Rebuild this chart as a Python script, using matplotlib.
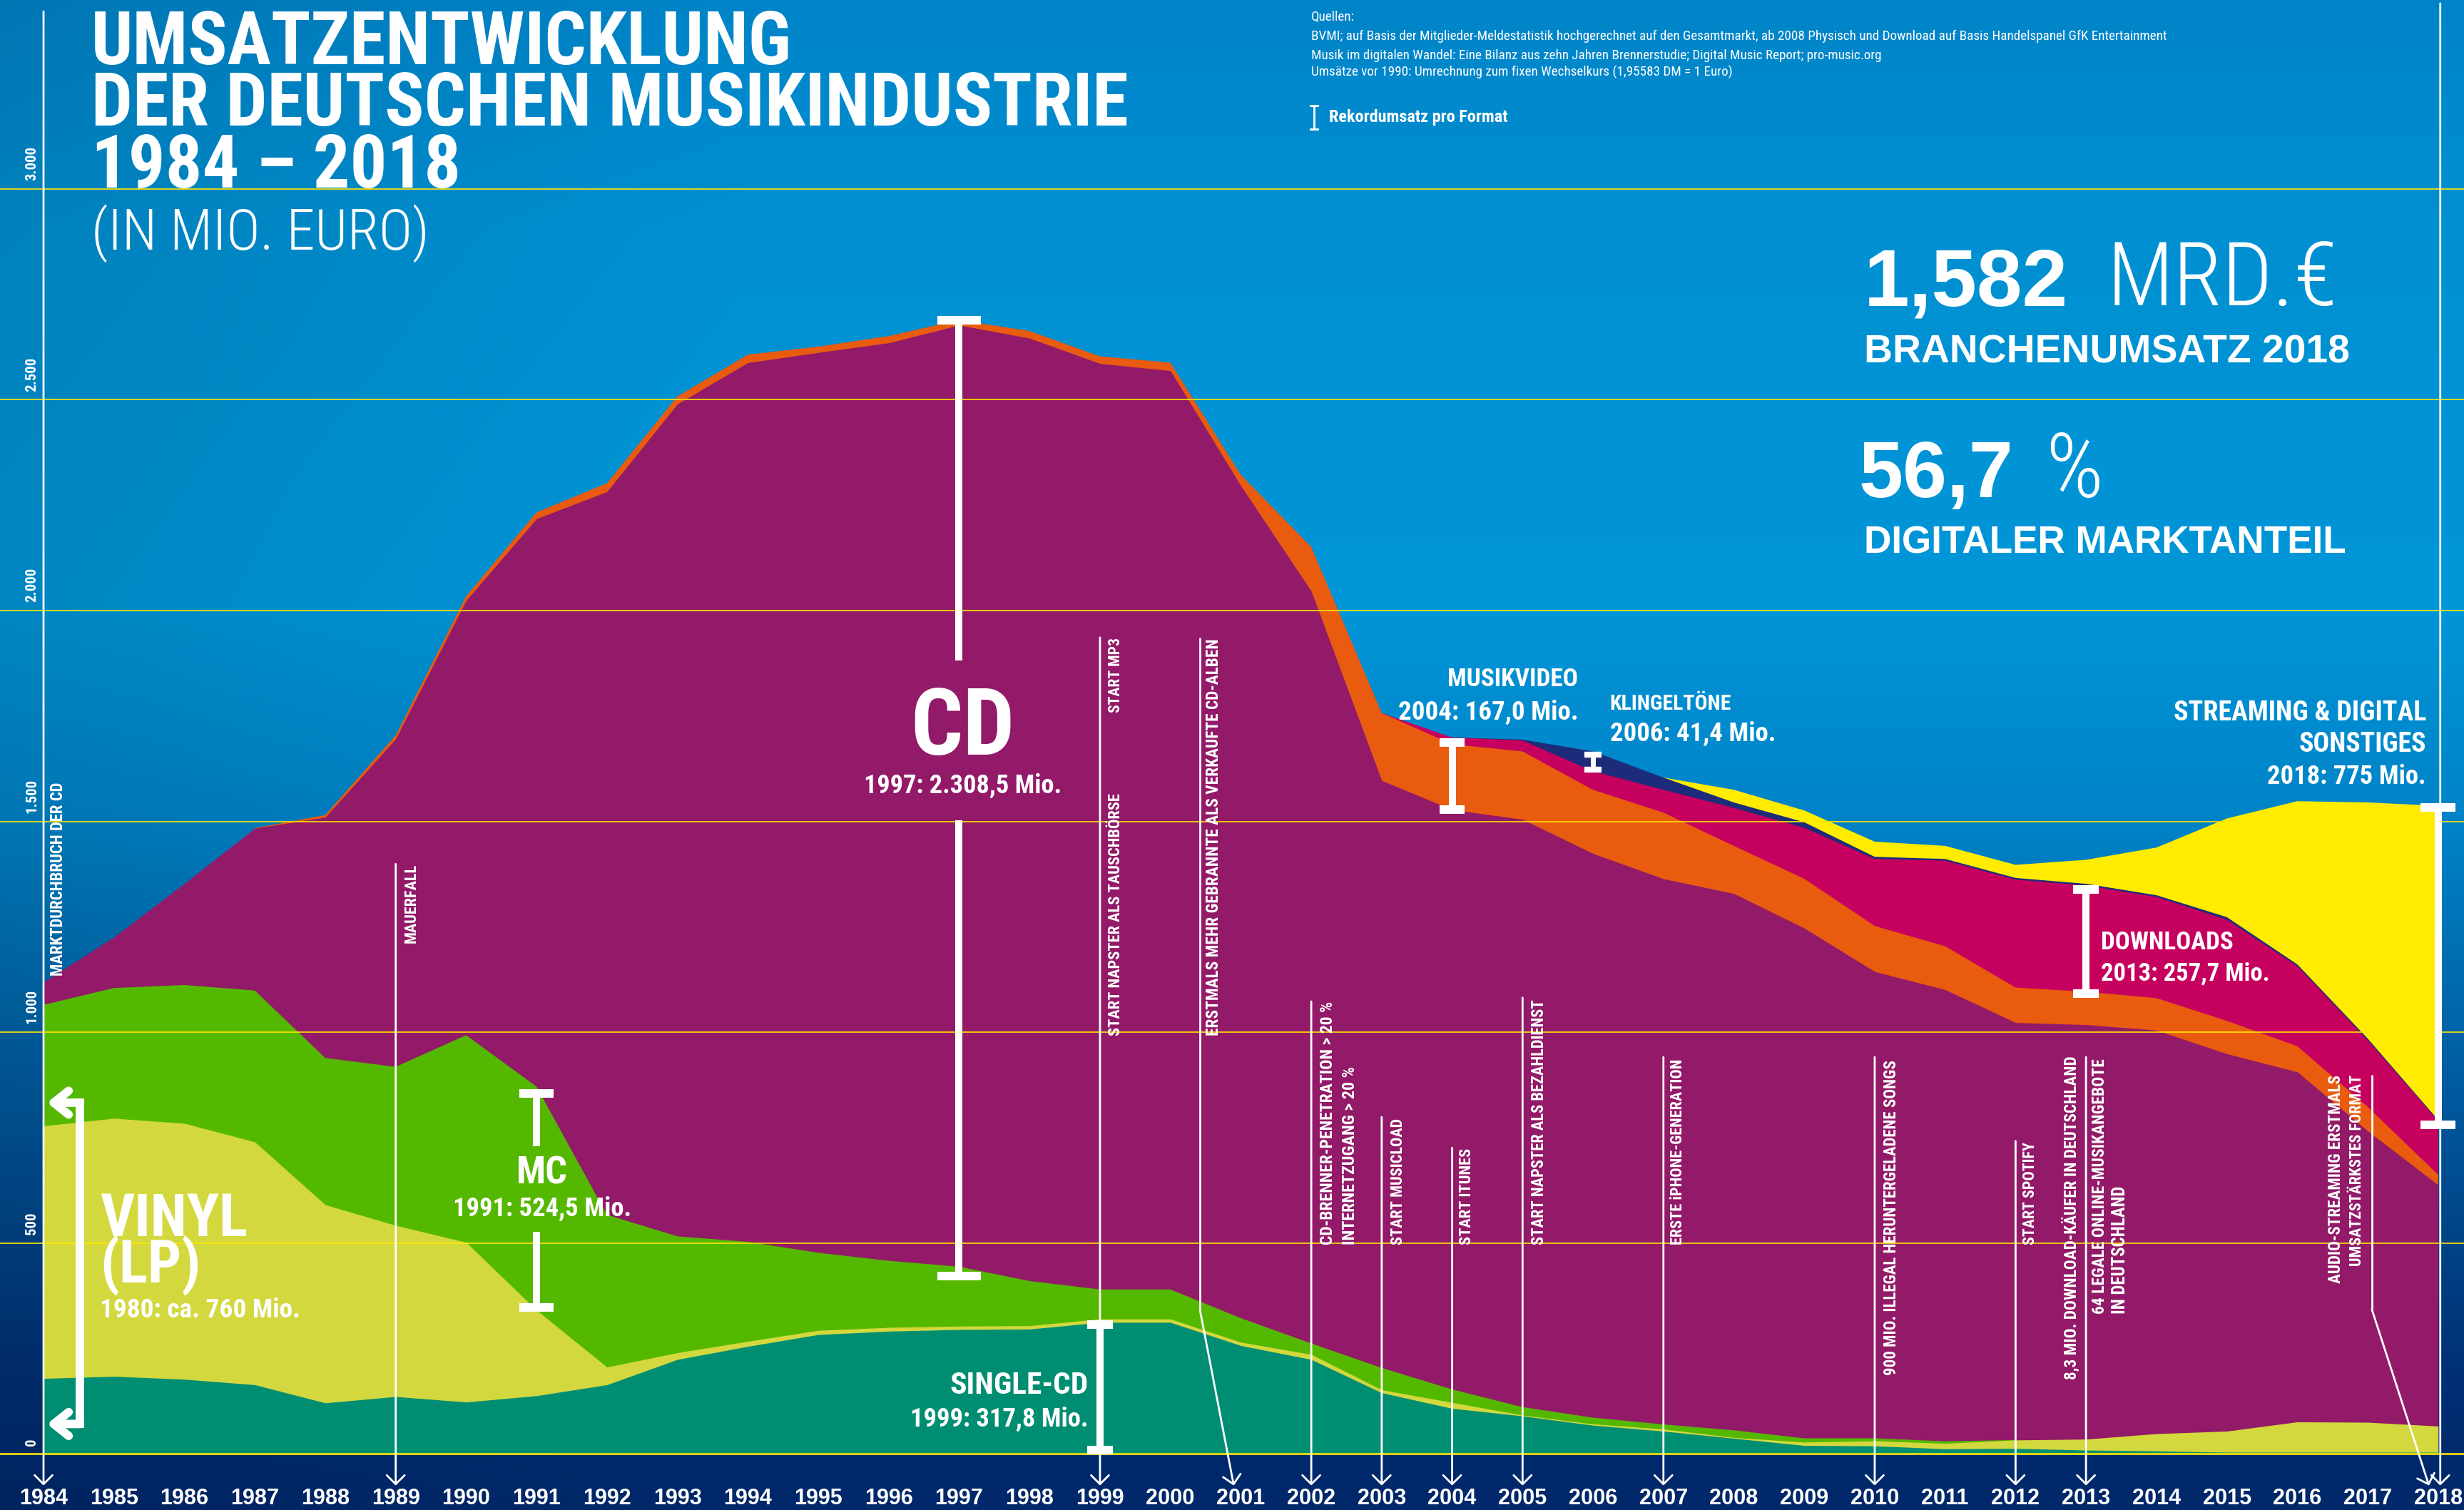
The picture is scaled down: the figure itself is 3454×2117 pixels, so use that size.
import numpy as np
import matplotlib
matplotlib.use('Agg')
import matplotlib.pyplot as plt
from matplotlib import font_manager

# ---------------- data (Mio. Euro) ----------------
years = np.arange(1984, 2019)

single_cd = [179, 184, 177, 164, 121, 136, 123, 138, 164, 224,
             255, 283, 291, 295, 296, 312, 312, 257, 224, 145,
             108, 90, 68, 54, 37, 20, 19, 12, 13, 9,
             7, 4, 4, 4, 4]
vinyl = [599, 612, 607, 576, 470, 406, 379, 203, 42, 16,
         12, 10, 9, 8, 8, 8, 8, 8, 12, 7,
         14, 2, 3, 5, 2, 8, 12, 13, 20, 26,
         41, 50, 72, 71, 62]
mc = [287, 309, 328, 359, 348, 376, 491, 530, 361, 276,
      236, 184, 158, 141, 106, 70, 70, 57, 26, 52,
      31, 19, 15, 11, 17, 9, 6, 5, 0, 0,
      0, 0, 0, 0, 0]
cd = [54, 121, 241, 385, 571, 778, 1031, 1347, 1715, 1974,
      2085, 2135, 2177, 2233, 2236, 2196, 2179, 1974, 1784, 1393,
      1375, 1394, 1338, 1294, 1273, 1210, 1107, 1071, 990, 983,
      957, 895, 830, 691, 572]
musikvideo = [0, 0, 0, 0, 5, 8, 10, 15, 20, 18,
              19, 14, 16, 12, 17, 17, 19, 26, 105, 160,
              155, 161, 151, 157, 113, 117, 108, 103, 83, 78,
              76, 78, 61, 57, 24]
downloads = [0] * 20 + [16, 26, 44, 54, 90, 121, 159, 203, 256, 252,
                        240, 240, 190, 158, 128]
klingeltoene = [0] * 20 + [0, 2, 47, 29, 13, 13, 5, 4, 4, 4,
                           4, 6, 4, 4, 2]
streaming = [0] * 20 + [0, 0, 0, 0, 30, 28, 36, 31, 31, 57,
                        113, 234, 387, 560, 745]

layers = [single_cd, vinyl, mc, cd, musikvideo, downloads, klingeltoene, streaming]
layer_colors = ['#008e72', '#d3d83e', '#55b800', '#921a68',
                '#e95b0f', '#c5005f', '#1d2c7a', '#ffec00']

grid_values = [0, 500, 1000, 1500, 2000, 2500, 3000]
grid_labels = ['0', '500', '1.000', '1.500', '2.000', '2.500', '3.000']

# record bars: (year, low, high, gap_low, gap_high, cap width)
records = [
    (1991, 348, 855, 527, 730, 0.49),
    (1997, 422, 2688, 1502, 1882, 0.61),
    (1999, 9, 307, None, None, 0.36),
    (2004, 1528, 1687, None, None, 0.36),
    (2006, 1622, 1659, None, None, 0.24),
    (2013, 1092, 1338, None, None, 0.36),
    (2018, 781, 1534, None, None, 0.50),
]

ARROW_Y = -75
event_lines = [
    [(1984, 3421), (1984, ARROW_Y)],
    [(1989, 1399), (1989, ARROW_Y)],
    [(1999, 1936), (1999, ARROW_Y)],
    [(2000.42, 1936), (2000.42, 341), (2000.9, ARROW_Y)],
    [(2002, 1073), (2002, ARROW_Y)],
    [(2003, 799), (2003, ARROW_Y)],
    [(2004, 726), (2004, ARROW_Y)],
    [(2005, 1082), (2005, ARROW_Y)],
    [(2007, 941), (2007, ARROW_Y)],
    [(2010, 941), (2010, ARROW_Y)],
    [(2012, 742), (2012, ARROW_Y)],
    [(2013, 941), (2013, ARROW_Y)],
    [(2017.06, 899), (2017.06, 342), (2017.87, ARROW_Y)],
    [(2018.03, 3440), (2018.03, ARROW_Y)],
]

# vertical event texts: (text, x, y, va, length px)
event_texts = [
    ('MARKTDURCHBRUCH DER CD', 1984.21, 1134, 'bottom', 273),
    ('MAUERFALL', 1989.22, 1399, 'top', 112),
    ('START MP3', 1999.22, 1936, 'top', 106),
    ('START NAPSTER ALS TAUSCHBÖRSE', 1999.22, 992, 'bottom', 341),
    ('ERSTMALS MEHR GEBRANNTE ALS VERKAUFTE CD-ALBEN', 2000.62, 992, 'bottom', 557),
    ('CD-BRENNER-PENETRATION > 20 %', 2002.24, 497, 'bottom', 341),
    ('INTERNETZUGANG > 20 %', 2002.55, 497, 'bottom', 249),
    ('START MUSICLOAD', 2003.23, 497, 'bottom', 178),
    ('START ITUNES', 2004.21, 497, 'bottom', 136),
    ('START NAPSTER ALS BEZAHLDIENST', 2005.23, 497, 'bottom', 346),
    ('ERSTE iPHONE-GENERATION', 2007.21, 497, 'bottom', 262),
    ('900 MIO. ILLEGAL HERUNTERGELADENE SONGS', 2010.24, 186, 'bottom', 445),
    ('START SPOTIFY', 2012.21, 497, 'bottom', 145),
    ('8,3 MIO. DOWNLOAD-KÄUFER IN DEUTSCHLAND', 2012.79, 176, 'bottom', 452),
    ('64 LEGALE ONLINE-MUSIKANGEBOTE', 2013.2, 333, 'bottom', 359),
    ('IN DEUTSCHLAND', 2013.48, 333, 'bottom', 180),
    ('AUDIO-STREAMING ERSTMALS', 2016.55, 899, 'top', 293),
    ('UMSATZSTÄRKSTES FORMAT', 2016.85, 899, 'top', 270),
]

# ---------------- fonts ----------------
names = {f.name for f in font_manager.fontManager.ttflist}


def pick(*cands):
    for c in cands:
        if c in names:
            return c
    return 'DejaVu Sans'


NARROW = pick('Liberation Sans Narrow', 'Roboto Condensed', 'DejaVu Sans')
WIDE = pick('Liberation Sans', 'Arimo', 'DejaVu Sans')

# ---------------- figure ----------------
fig = plt.figure(figsize=(34.54, 21.17), dpi=100)
ax = fig.add_axes([0, 0, 1, 1])
X0, X1 = 1983.382, 2018.367
Y0, Y1 = -133, 3448
PX_PER_UNIT = 2117 / (Y1 - Y0)

# background gradient
stops_t = [0, 0.15, 0.4, 0.55, 0.68, 0.8, 0.9, 0.963, 1]
stops_c = np.array([(0, 132, 200), (0, 144, 210), (0, 150, 216), (0, 130, 198),
                    (0, 100, 168), (0, 72, 140), (0, 50, 118), (0, 42, 110),
                    (0, 40, 106)]) / 255
t = np.linspace(0, 1, 400)
col = np.stack([np.interp(t, stops_t, stops_c[:, k]) for k in range(3)], axis=1)
xs = np.linspace(0, 1, 200)
shade = 1 - 0.1 * np.clip(0.3 - xs, 0, None) / 0.3
img = col[:, None, :] * shade[None, :, None]
ax.imshow(img, extent=[X0, X1, Y0, Y1], aspect='auto', origin='upper',
          zorder=0, interpolation='bilinear')

# stacked areas, painted top-down so no seams show
cum = np.cumsum(np.array(layers, dtype=float), axis=0)
for i in range(len(layers) - 1, -1, -1):
    lay = np.array(layers[i])
    mask = lay > 0
    mask = mask | np.roll(mask, 1) | np.roll(mask, -1)
    if i == 0:
        mask[:] = True
    ax.fill_between(years, 0, cum[i], where=mask, color=layer_colors[i],
                    lw=0, zorder=2, interpolate=False)

# grid lines
for v in grid_values:
    ax.axhline(v, color='#ffe800', lw=2.2 if v == 0 else 1.4, alpha=0.85, zorder=3)

ax.set_xlim(X0, X1)
ax.set_ylim(Y0, Y1)
ax.axis('off')

renderer = fig.canvas.get_renderer()


def fit(txt, target, along='w'):
    bb = txt.get_window_extent(renderer)
    cur = bb.width if along == 'w' else bb.height
    txt.set_fontsize(txt.get_fontsize() * target / cur)
    return txt


def label(x, y, s, w, ha='left', family=NARROW, weight='bold', size=30):
    txt = ax.text(x, y, s, ha=ha, va='baseline', color='white', fontsize=size,
                  family=family, weight=weight, zorder=7)
    return fit(txt, w)


def block(x, y_last, lines, w, step, ha='left', family=NARROW, weight='bold'):
    # multi-line text; y_last is the baseline of the last line
    txt = label(x, y_last, '\n'.join(lines), w, ha=ha, family=family, weight=weight)
    _, h, d = renderer.get_text_width_height_descent('lp', txt.get_fontproperties(),
                                                     ismath=False)
    txt.set_linespacing((step * PX_PER_UNIT - d) / (h - d))
    return txt


# y tick labels
tk = None
for v, s in zip(grid_values, grid_labels):
    tt = ax.text(1983.837, v + 20, s, rotation=90, ha='center', va='bottom',
                 color='white', family=NARROW, weight='bold', fontsize=16, zorder=7)
    if s == '3.000':
        tk = tt
fit(tk, 48, 'h')
for tt in ax.texts:
    tt.set_fontsize(tk.get_fontsize())

# year labels
yl = []
for y in years:
    yl.append(ax.text(y, -120, str(y), ha='center', va='baseline', color='white',
                      family=WIDE, weight='bold', fontsize=20, zorder=7))
fit(yl[0], 68)
for tt in yl:
    tt.set_fontsize(yl[0].get_fontsize())

# event lines with arrows
line_kw = dict(color='white', lw=2, zorder=5, solid_capstyle='butt')
arrow_kw = dict(arrowstyle='->,head_length=0.9,head_width=0.9', color='white',
                lw=2, shrinkA=0, shrinkB=0)
for pts in event_lines:
    if len(pts) > 2:
        ax.plot([p[0] for p in pts[:-1]], [p[1] for p in pts[:-1]], **line_kw)
    ax.annotate('', xy=pts[-1], xytext=pts[-2], arrowprops=arrow_kw, zorder=5,
                annotation_clip=False)

for s, x, y, va, length in event_texts:
    tt = ax.text(x, y, s, rotation=90, ha='center', va=va, color='white',
                 family=NARROW, weight='bold', fontsize=14, zorder=7)
    fit(tt, length, 'h')

# record bars
for x, lo, hi, glo, ghi, cap in records:
    lw = 5 if cap < 0.3 else 7.2
    if glo is None:
        ax.plot([x, x], [lo, hi], color='white', lw=lw, solid_capstyle='butt', zorder=6)
    else:
        ax.plot([x, x], [lo, glo], color='white', lw=lw, solid_capstyle='butt', zorder=6)
        ax.plot([x, x], [ghi, hi], color='white', lw=lw, solid_capstyle='butt', zorder=6)
    for yy in (lo, hi):
        ax.plot([x - cap / 2, x + cap / 2], [yy, yy], color='white', lw=lw * 1.2,
                solid_capstyle='butt', zorder=6)

# vinyl bracket (1980 record)
ax.plot([1984.52, 1984.52], [71, 833], color='white', lw=8.5, solid_capstyle='projecting', zorder=6)
for yy in (71, 833):
    ax.annotate('', xy=(1984.05, yy), xytext=(1984.52, yy),
                arrowprops=dict(arrowstyle='->,head_length=1.5,head_width=1.2',
                                color='white', lw=8.5, shrinkA=0, shrinkB=0),
                zorder=6)

# format labels
block(1984.8, 406, ['VINYL', '(LP)'], 207, 106)
label(1984.8, 323, '1980: ca. 760 Mio.', 281)
label(1991.08, 641, 'MC', 72, ha='center')
label(1991.08, 564, '1991: 524,5 Mio.', 251, ha='center')
label(1997.05, 1658, 'CD', 146, ha='center')
label(1997.05, 1567, '1997: 2.308,5 Mio.', 277, ha='center')
label(1998.83, 143, 'SINGLE-CD', 194, ha='right')
label(1998.83, 65, '1999: 317,8 Mio.', 250, ha='right')
label(2005.79, 1820, 'MUSIKVIDEO', 183, ha='right')
label(2005.79, 1742, '2004: 167,0 Mio.', 253, ha='right')
label(2006.24, 1765, 'KLINGELTÖNE', 170)
label(2006.24, 1690, '2006: 41,4 Mio.', 233)
label(2013.21, 1196, 'DOWNLOADS', 185)
label(2013.21, 1124, '2013: 257,7 Mio.', 237)
label(2017.83, 1739, 'STREAMING & DIGITAL', 354, ha='right')
label(2017.83, 1665, 'SONSTIGES', 178, ha='right')
label(2017.83, 1589, '2018: 775 Mio.', 223, ha='right')

# title
block(1984.68, 3003, ['UMSATZENTWICKLUNG', 'DER DEUTSCHEN MUSIKINDUSTRIE', '1984 – 2018'],
      1451, 146.5)
label(1984.68, 2855, '(IN MIO. EURO)', 474, weight='light')

# sources
src = label(2002.0, 3354, 'BVMI; auf Basis der Mitglieder-Meldestatistik hochgerechnet auf den '
            'Gesamtmarkt, ab 2008 Physisch und Download auf Basis Handelspanel GfK Entertainment',
            1204, weight='normal')
fs = src.get_fontsize()
for yy, s in [(3399, 'Quellen:'),
              (3307, 'Musik im digitalen Wandel: Eine Bilanz aus zehn Jahren Brennerstudie; '
                     'Digital Music Report; pro-music.org'),
              (3267, 'Umsätze vor 1990: Umrechnung zum fixen Wechselkurs (1,95583 DM = 1 Euro)')]:
    ax.text(2002.0, yy, s, ha='left', va='baseline', color='white', family=NARROW,
            fontsize=fs, zorder=7)
label(2002.25, 3158, 'Rekordumsatz pro Format', 250)
ax.plot([2002.04, 2002.04], [3141, 3198], color='white', lw=2, zorder=6)
for yy in (3141, 3198):
    ax.plot([2001.99, 2002.09], [yy, yy], color='white', lw=2, zorder=6)

# key figures
label(2009.85, 2724, '1,582', 286, family=WIDE)
label(2013.3, 2724, 'MRD.€', 323, weight='light')
label(2009.85, 2588, 'BRANCHENUMSATZ 2018', 680, family=WIDE)
label(2009.77, 2269, '56,7', 216, family=WIDE)
label(2012.42, 2269, '%', 81, weight='light')
label(2009.85, 2137, 'DIGITALER MARKTANTEIL', 675, family=WIDE)

fig.savefig('out.png', dpi=100)
